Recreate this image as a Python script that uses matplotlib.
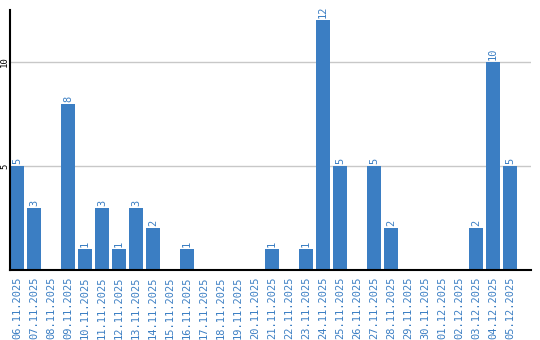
import matplotlib
matplotlib.use("Agg")
import matplotlib.pyplot as plt
import numpy as np

dates = ["06.11.2025", "07.11.2025", "08.11.2025", "09.11.2025", "10.11.2025",
         "11.11.2025", "12.11.2025", "13.11.2025", "14.11.2025", "15.11.2025",
         "16.11.2025", "17.11.2025", "18.11.2025", "19.11.2025", "20.11.2025",
         "21.11.2025", "22.11.2025", "23.11.2025", "24.11.2025", "25.11.2025",
         "26.11.2025", "27.11.2025", "28.11.2025", "29.11.2025", "30.11.2025",
         "01.12.2025", "02.12.2025", "03.12.2025", "04.12.2025", "05.12.2025"]
counts = [5, 3, 0, 8, 1, 3, 1, 3, 2, 0, 1, 0, 0, 0, 0,
          1, 0, 1, 12, 5, 0, 5, 2, 0, 0, 0, 0, 2, 10, 5]
yticks = [5, 10]

blue = "#3b7ec3"
mono = "DejaVu Sans Mono"

fig = plt.figure(figsize=(5.4, 3.4), dpi=100)
ax = fig.add_axes([10 / 540, 70 / 340, 521 / 540, 260 / 340])

x = np.arange(len(dates))
ax.bar(x, counts, width=0.82, color=blue, zorder=2)
for xi, v in zip(x, counts):
    if v > 0:
        ax.text(xi, v + 0.1, str(v), rotation=90, ha="center", va="bottom",
                color=blue, fontsize=7.5, family=mono)

ax.set_xlim(-0.41, 30.24)
ax.set_ylim(0, 12.5)
ax.set_yticks(yticks)
ax.set_yticklabels([str(t) for t in yticks], rotation=90, va="center",
                   fontsize=6.5, family=mono)
ax.grid(axis="y", color="#c8c8c8", linewidth=1, zorder=0)
ax.tick_params(axis="y", length=0, pad=0.5)
ax.set_xticks(x)
ax.set_xticklabels(dates, rotation=90, fontsize=7.5, family=mono, color=blue)
ax.tick_params(axis="x", length=0, pad=5)

for s in ["top", "right"]:
    ax.spines[s].set_visible(False)
ax.spines["left"].set_linewidth(1.5)
ax.spines["bottom"].set_linewidth(1.5)

fig.savefig("out.png", dpi=100)
